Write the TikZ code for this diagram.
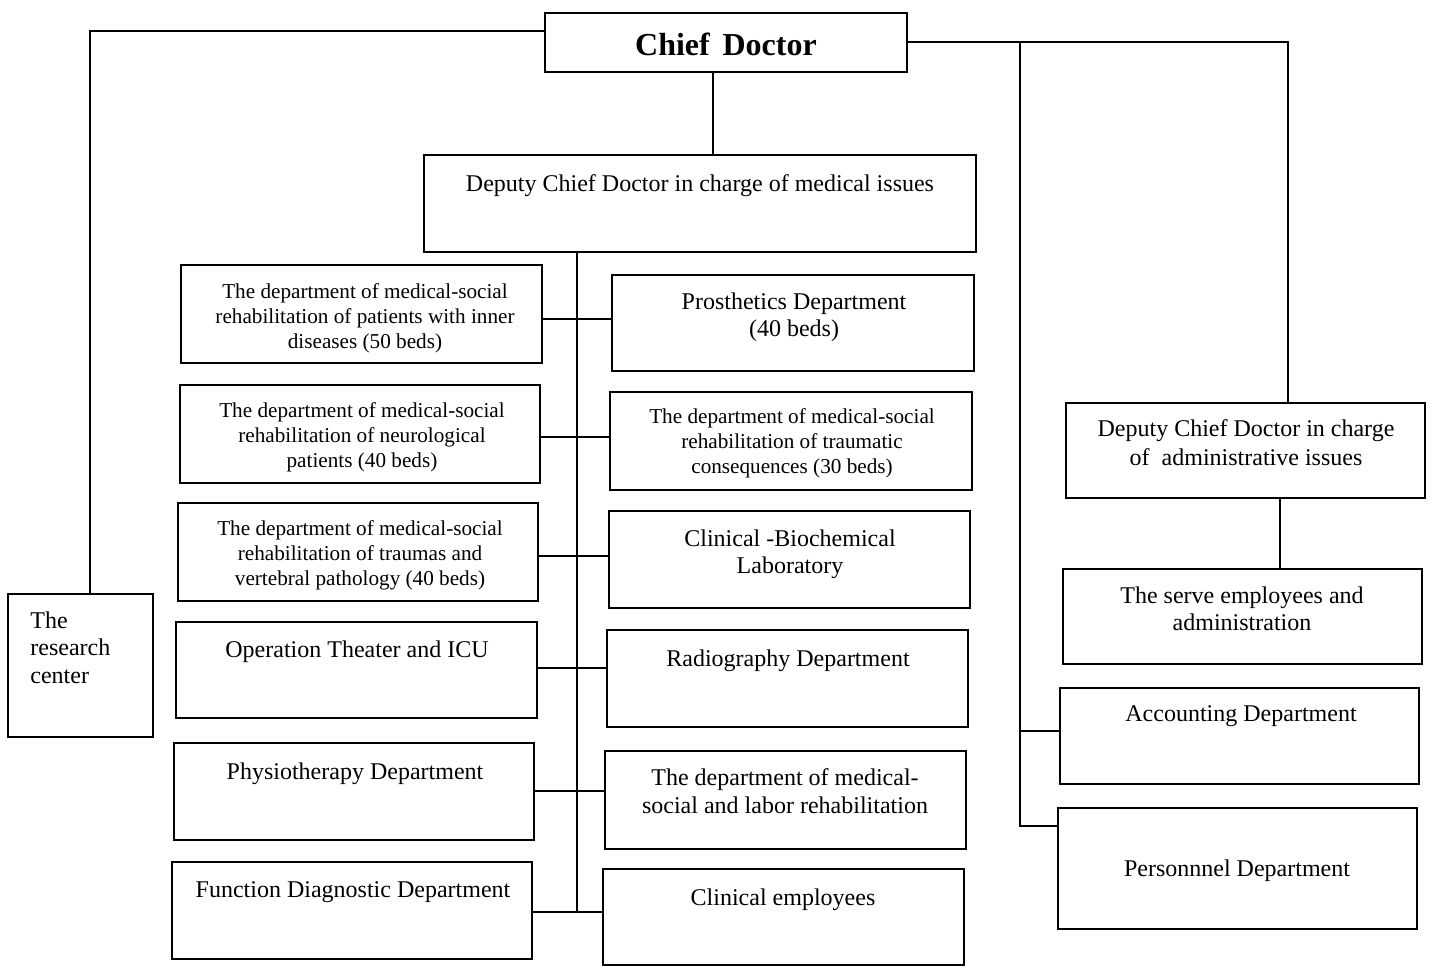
\documentclass[tikz,border=0pt]{standalone}
\usepackage{fontspec}
\setmainfont{Liberation Serif}
\tikzset{x=0.5pt,y=-0.5pt,
 box/.style={draw, line width=0.9pt, inner sep=0pt},
 ln/.style={line width=0.8pt},
 big/.style={font=\fontsize{12}{13.5}\selectfont, align=center, inner sep=0pt, anchor=north},
 bigw/.style={font=\fontsize{12}{14}\selectfont, align=center, inner sep=0pt, anchor=north},
 small/.style={font=\fontsize{10.6}{12.5}\selectfont, align=center, inner sep=0pt, anchor=north}}
\newcommand\mkbox[5]{%
 \pgfmathsetmacro\bw{(#4-#2)*0.5}\pgfmathsetmacro\bh{(#5-#3)*0.5}%
 \node[box, minimum width=\bw pt, minimum height=\bh pt] (#1) at ({(#2+#4)/2},{(#3+#5)/2}) {};}
\begin{document}
\begin{tikzpicture}
\useasboundingbox (0,0) rectangle (1433,968);
% boxes
\mkbox{c}{545}{13}{907}{72}
\mkbox{dm}{424}{155}{976}{252}
\mkbox{L1}{181}{265}{542}{363}
\mkbox{L2}{180}{385}{540}{483}
\mkbox{L3}{178}{503}{538}{601}
\mkbox{L4}{176}{622}{537}{718}
\mkbox{L5}{174}{743}{534}{840}
\mkbox{L6}{172}{862}{532}{959}
\mkbox{R1}{612}{275}{974}{371}
\mkbox{R2}{610}{392}{972}{490}
\mkbox{R3}{609}{511}{970}{608}
\mkbox{R4}{607}{630}{968}{727}
\mkbox{R5}{605}{751}{966}{849}
\mkbox{R6}{603}{869}{964}{965}
\mkbox{rc}{8}{594}{153}{737}
\mkbox{ad}{1066}{403}{1425}{498}
\mkbox{se}{1063}{569}{1422}{664}
\mkbox{ac}{1060}{688}{1419}{784}
\mkbox{pe}{1058}{808}{1417}{929}
% texts
\node[font=\fontsize{16}{18}\bfseries\selectfont, inner sep=0pt, anchor=north] (ct) at (726,33) {Chief\hspace{0.4em}Doctor};
\node[big] (dmt) at (700,174) {Deputy Chief Doctor in charge of medical issues};
\node[small] (L1t) at (365,283) {The department of medical-social\\rehabilitation of patients with inner\\diseases (50 beds)};
\node[small] (L2t) at (362,402) {The department of medical-social\\rehabilitation of neurological\\patients (40 beds)};
\node[small] (L3t) at (360,520) {The department of medical-social\\rehabilitation of traumas and\\vertebral pathology (40 beds)};
\node[big] (L4t) at (357,640) {Operation Theater and ICU};
\node[big] (L5t) at (355,762) {Physiotherapy Department};
\node[big] (L6t) at (353,881) {Function Diagnostic Department};
\node[big] (R1t) at (794,292) {Prosthetics Department\\(40 beds)};
\node[small] (R2t) at (792,408) {The department of medical-social\\rehabilitation of traumatic\\consequences (30 beds)};
\node[big] (R3t) at (790,529) {Clinical -Biochemical\\Laboratory};
\node[big] (R4t) at (788,649) {Radiography Department};
\node[bigw] (R5t) at (785,768) {The department of medical-\\social and labor rehabilitation};
\node[big] (R6t) at (783,888) {Clinical employees};
\node[font=\fontsize{12}{13.8}\selectfont, align=left, inner sep=0pt, anchor=north west] (rct) at (30,611) {The\\research\\center};
\node[font=\fontsize{12}{14.5}\selectfont, align=center, inner sep=0pt, anchor=north] (adt) at (1246,419) {Deputy Chief Doctor in charge\\of\hspace{0.5em}administrative issues};
\node[big] (set) at (1242,586) {The serve employees and\\administration};
\node[big] (act) at (1241,705) {Accounting Department};
\node[big] (pet) at (1237,859) {Personnnel Department};
% junction coordinates
\coordinate (xa) at (713,0);
\coordinate (xs) at (577,0);
\coordinate (sb) at (577,912);
\coordinate (xl) at (90,31);
\coordinate (xr) at (1288,42);
\coordinate (xb) at (1020,42);
\coordinate (xbb) at (1020,826);
\coordinate (xad) at (1280,0);
\foreach \i/\yy in {1/319,2/437,3/556,4/668,5/791,6/912}{
  \coordinate (j\i) at (0,\yy);
  \draw[ln] (L\i.east |- j\i) -- (R\i.west |- j\i);
}
% connectors
\draw[ln] (c.south -| xa) -- (dm.north -| xa);
\draw[ln] (dm.south -| xs) -- (sb);
\draw[ln] (c.west |- xl) -- (xl) -- (rc.north -| xl);
\draw[ln] (c.east |- xr) -- (xr) -- (ad.north -| xr);
\draw[ln] (xb) -- (xbb) -- (pe.west |- xbb);
\coordinate (ya) at (0,731);
\draw[ln] (xb |- ya) -- (ac.west |- ya);
\draw[ln] (ad.south -| xad) -- (se.north -| xad);
\end{tikzpicture}
\end{document}
